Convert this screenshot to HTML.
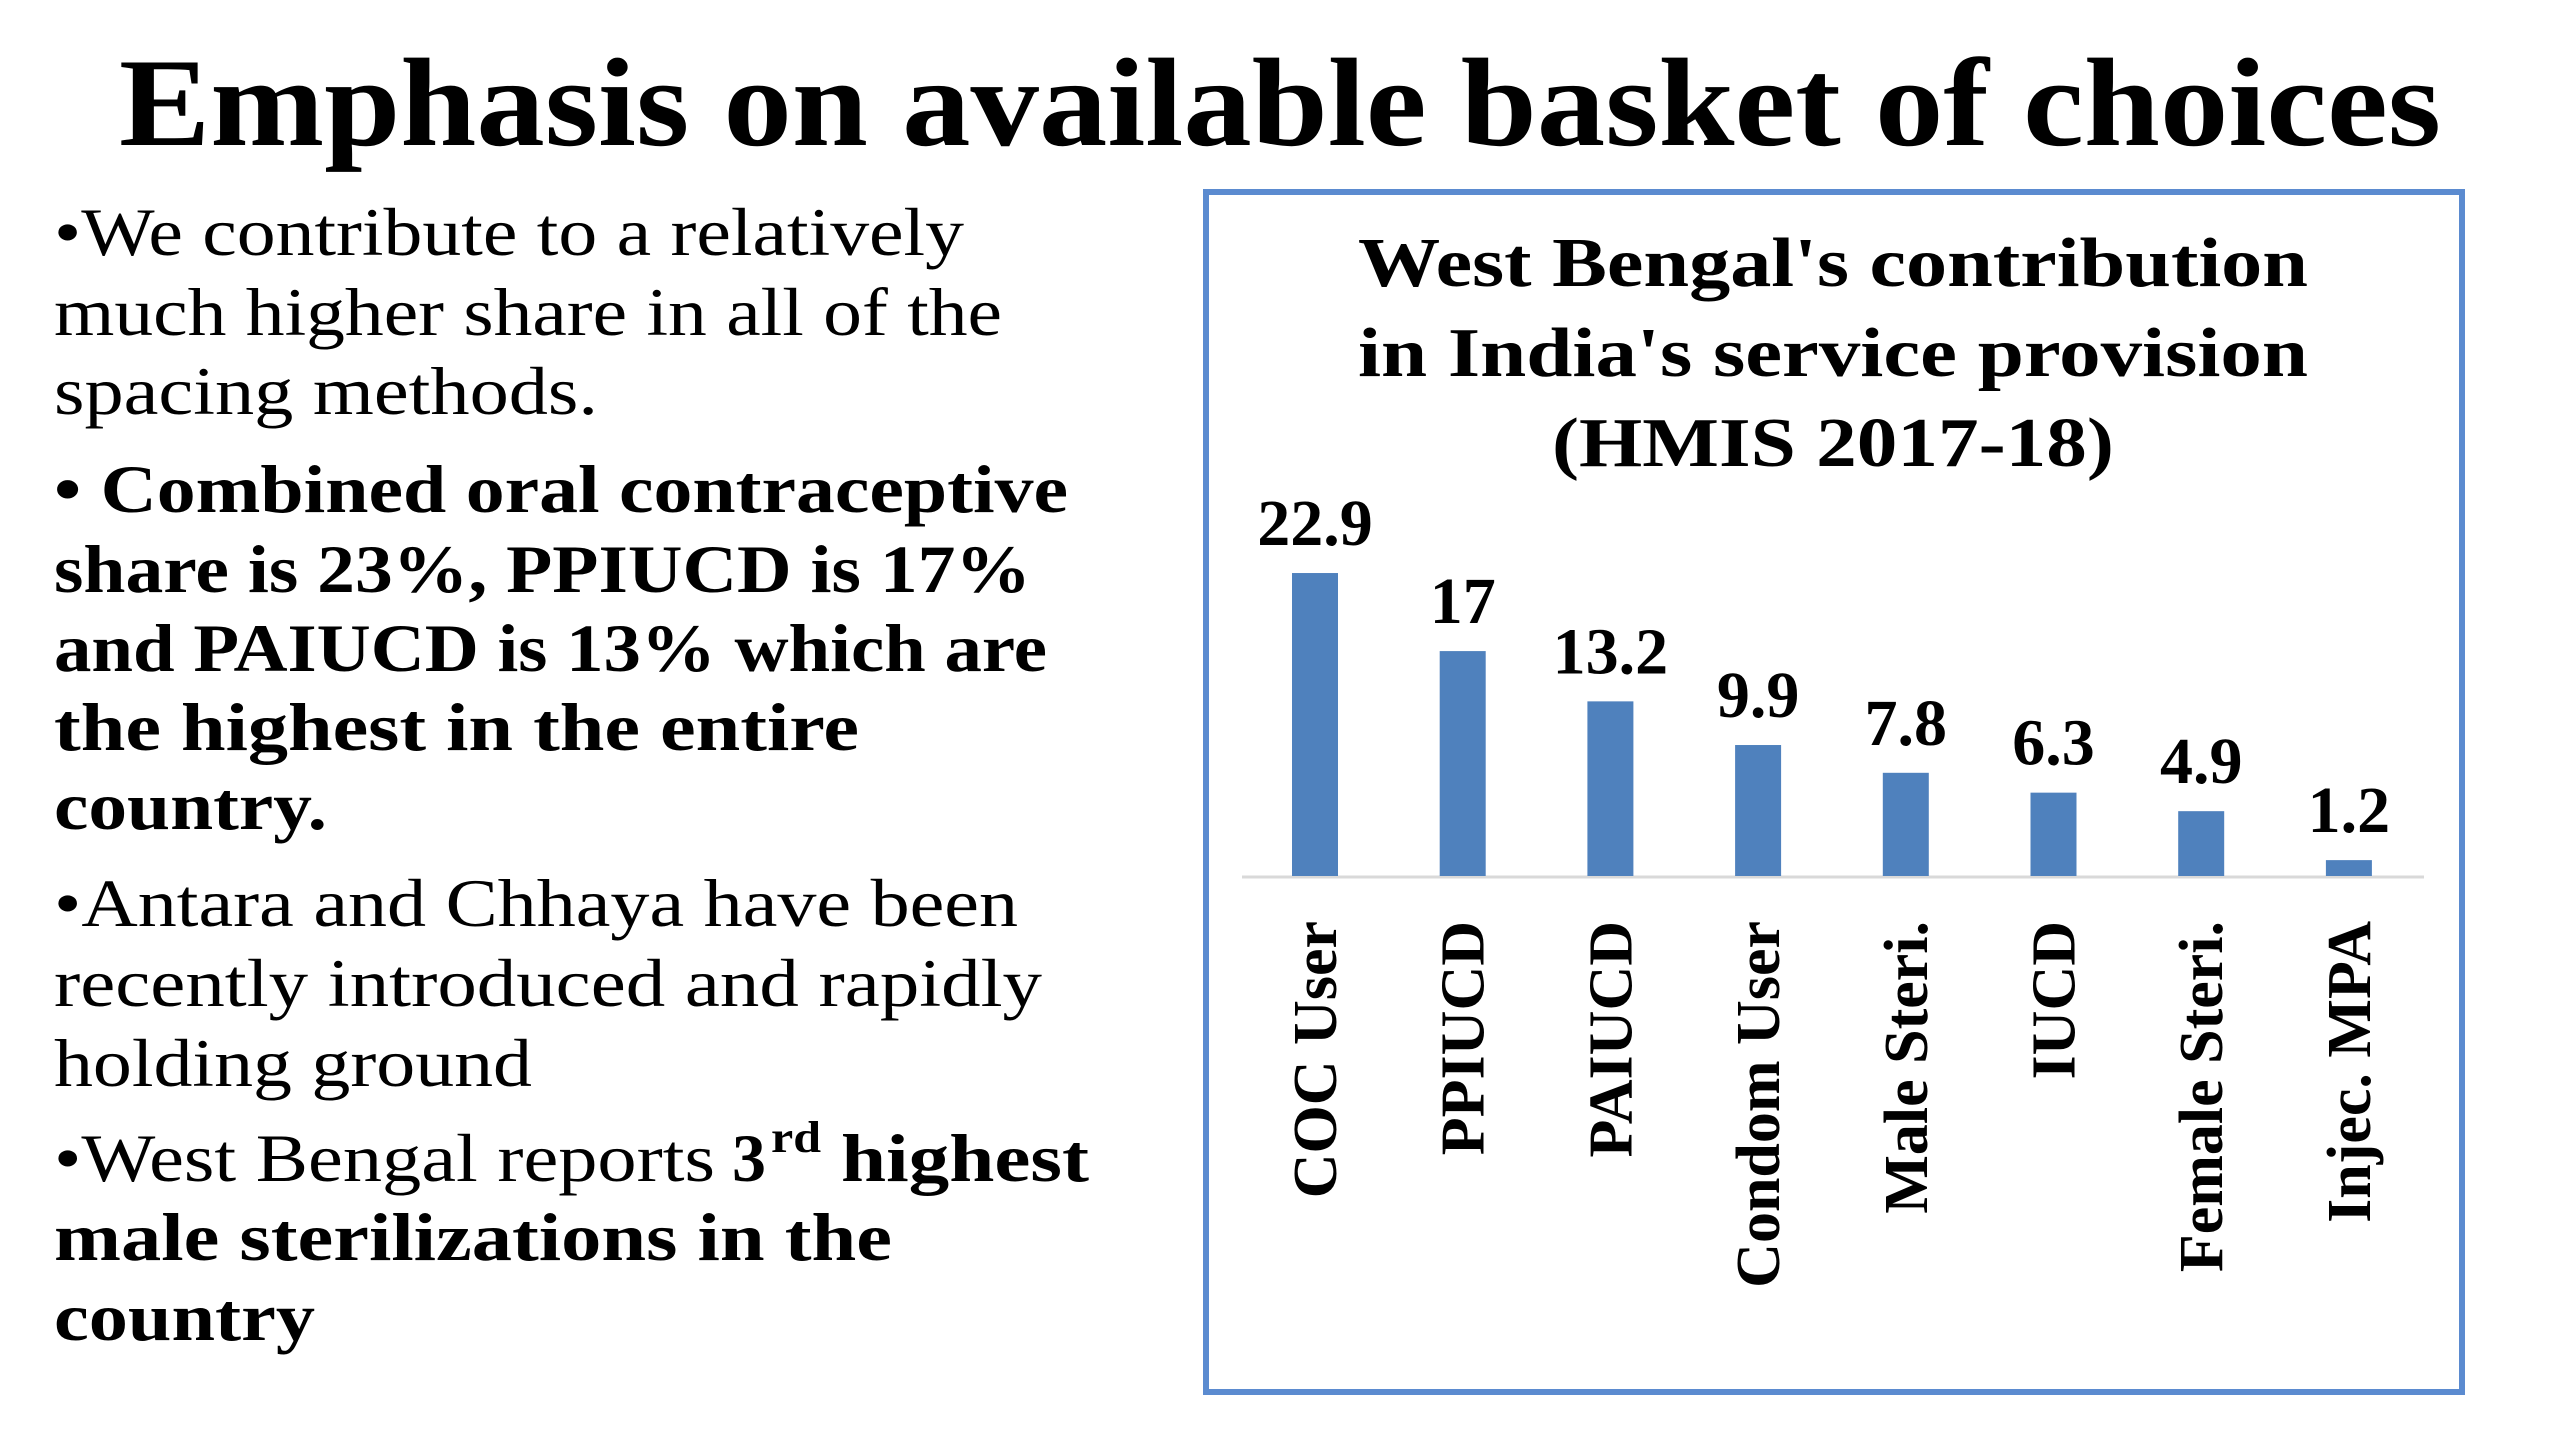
<!DOCTYPE html>
<html><head><meta charset="utf-8"><style>
html,body{margin:0;padding:0;background:#fff}
svg{display:block}
text{font-family:"Liberation Serif",serif;fill:#000}
</style></head><body>
<svg width="2560" height="1439" viewBox="0 0 2560 1439">
<text x="1280" y="145" text-anchor="middle" font-size="126" font-weight="bold" textLength="2322" lengthAdjust="spacingAndGlyphs">Emphasis on available basket of choices</text>
<g font-size="68">
<text x="54" y="255" textLength="910" lengthAdjust="spacingAndGlyphs">•We contribute to a relatively</text>
<text x="54" y="335" textLength="948" lengthAdjust="spacingAndGlyphs">much higher share in all of the</text>
<text x="54" y="414" textLength="544" lengthAdjust="spacingAndGlyphs">spacing methods.</text>
<text x="54" y="512" font-weight="bold" textLength="1014" lengthAdjust="spacingAndGlyphs">• Combined oral contraceptive</text>
<text x="54" y="592" font-weight="bold" textLength="977" lengthAdjust="spacingAndGlyphs">share is 23%, PPIUCD is 17%</text>
<text x="54" y="671" font-weight="bold" textLength="993" lengthAdjust="spacingAndGlyphs">and PAIUCD is 13% which are</text>
<text x="54" y="750" font-weight="bold" textLength="805" lengthAdjust="spacingAndGlyphs">the highest in the entire</text>
<text x="54" y="829" font-weight="bold" textLength="273" lengthAdjust="spacingAndGlyphs">country.</text>
<text x="54" y="926" textLength="964" lengthAdjust="spacingAndGlyphs">•Antara and  Chhaya have been</text>
<text x="54" y="1006" textLength="988" lengthAdjust="spacingAndGlyphs">recently introduced and rapidly</text>
<text x="54" y="1086" textLength="478" lengthAdjust="spacingAndGlyphs">holding ground</text>
<text x="54" y="1181" textLength="661" lengthAdjust="spacingAndGlyphs">•West Bengal reports</text>
<text x="732" y="1181" font-weight="bold">3</text>
<text x="771" y="1152" font-weight="bold" font-size="44" textLength="50" lengthAdjust="spacingAndGlyphs">rd</text>
<text x="841" y="1181" font-weight="bold" textLength="248" lengthAdjust="spacingAndGlyphs">highest</text>
<text x="54" y="1260" font-weight="bold" textLength="838" lengthAdjust="spacingAndGlyphs">male sterilizations in the</text>
<text x="54" y="1340" font-weight="bold" textLength="261" lengthAdjust="spacingAndGlyphs">country</text>
</g>
<rect x="1206" y="192" width="1256" height="1200" fill="none" stroke="#5b8bd0" stroke-width="6"/>
<g font-size="70" font-weight="bold" text-anchor="middle">
<text x="1833" y="286" textLength="950" lengthAdjust="spacingAndGlyphs">West Bengal's contribution</text>
<text x="1833" y="376" textLength="950" lengthAdjust="spacingAndGlyphs">in India's service provision</text>
<text x="1833" y="466" textLength="562" lengthAdjust="spacingAndGlyphs">(HMIS 2017-18)</text>
</g>
<line x1="1242" y1="877" x2="2424" y2="877" stroke="#d9d9d9" stroke-width="3"/>
<g id="bars"></g>
</svg>
<script>
const categories = ["COC User","PPIUCD","PAIUCD","Condom User","Male Steri.","IUCD","Female Steri.","Injec. MPA"];
const values = [22.9,17,13.2,9.9,7.8,6.3,4.9,1.2];
const valueLabels = ["22.9","17","13.2","9.9","7.8","6.3","4.9","1.2"];
const NS="http://www.w3.org/2000/svg";
const baseY=876, pxPerUnit=13.23, x0=1315, step=147.7, bw=46;
function xPos(i){return x0+i*step;}
function yPos(v){return baseY-v*pxPerUnit;}
const g=document.getElementById('bars');
categories.forEach((c,i)=>{
  const cx=xPos(i), top=yPos(values[i]);
  const r=document.createElementNS(NS,'rect');
  
  
  r.setAttribute('x',cx-bw/2);r.setAttribute('y',top);
  r.setAttribute('width',bw);r.setAttribute('height',baseY-top);
  r.setAttribute('fill','#4f81bd');
  g.appendChild(r);
  const t=document.createElementNS(NS,'text');
  
  
  t.setAttribute('x',cx);t.setAttribute('y',top-28);
  t.setAttribute('text-anchor','middle');t.setAttribute('font-size','66');t.setAttribute('font-weight','bold');
  t.textContent=valueLabels[i];
  g.appendChild(t);
  const l=document.createElementNS(NS,'text');
  
  
  l.setAttribute('transform','translate('+(cx+21)+',921) rotate(-90)');
  l.setAttribute('text-anchor','end');l.setAttribute('font-size','62');l.setAttribute('font-weight','bold');
  l.textContent=c;
  g.appendChild(l);
});
</script>
</body></html>
